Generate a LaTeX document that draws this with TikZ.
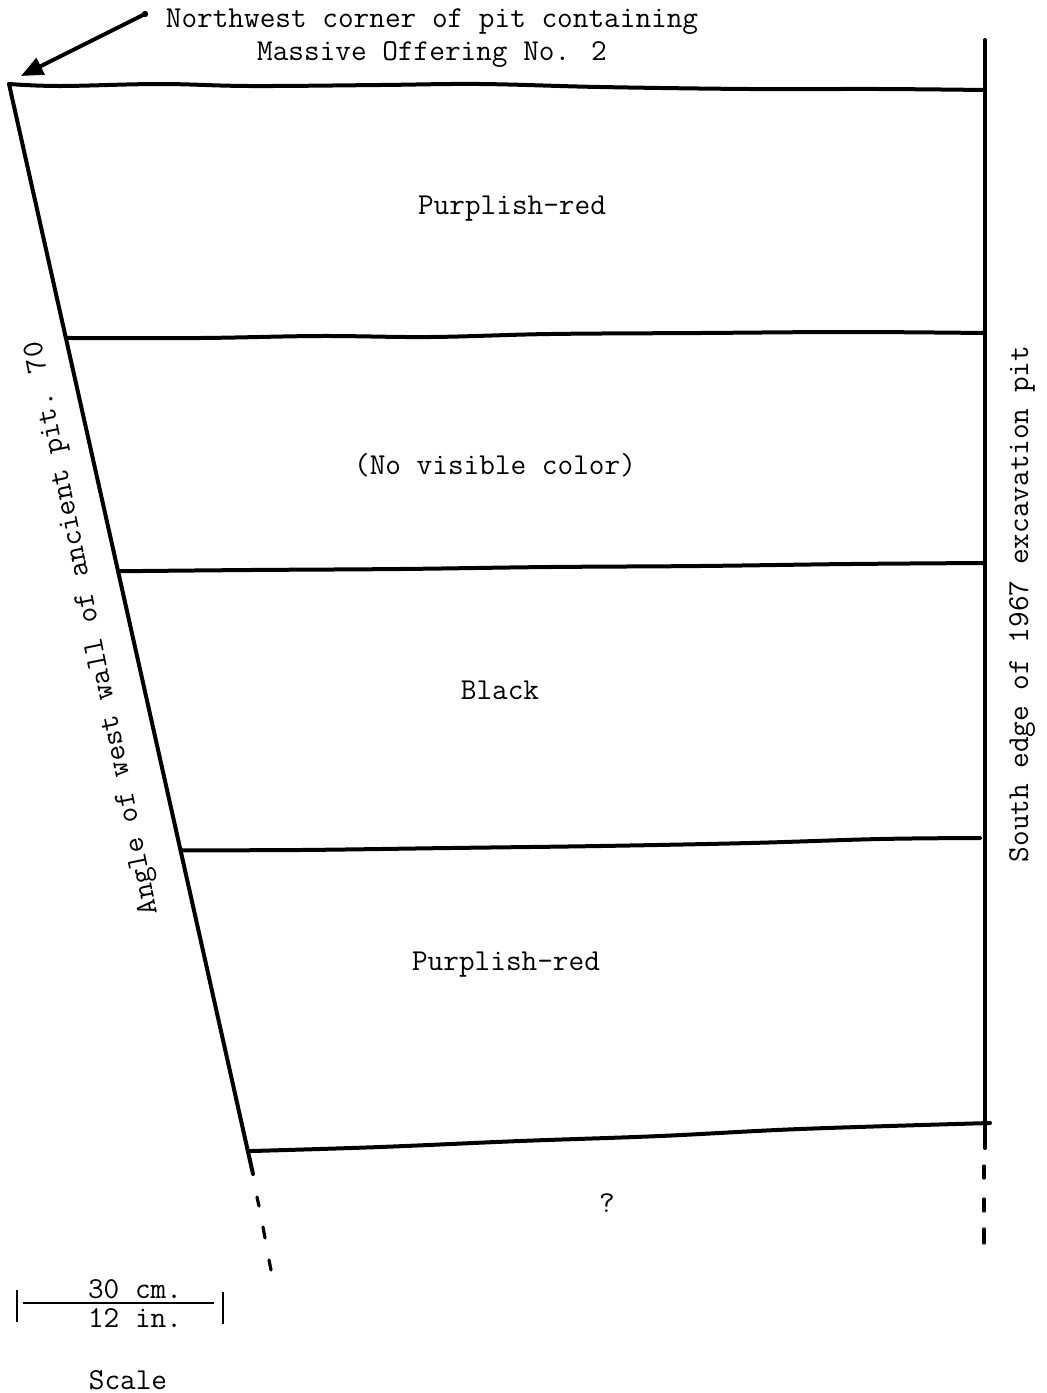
\documentclass[tikz,border=0pt]{standalone}
\usetikzlibrary{arrows.meta}
\tikzset{
  wallLine/.style={line width=2pt, line cap=round, line join=round},
  layerLine/.style={line width=2pt, line cap=round},
  gapDash/.style={line width=1.6pt, line cap=round},
  scaleLine/.style={line width=0.9pt},
  arrowK/.style={-{Triangle[length=11pt,width=9pt]}, line width=2pt, shorten <=1pt},
  labelText/.style={font=\ttfamily\fontsize{15.2}{16.5}\selectfont, inner sep=0pt, align=center},
}
\begin{document}
\begin{tikzpicture}[x=0.5pt, y=-0.5pt]
  \useasboundingbox (0,0) rectangle (1046,1393);
  % corners of the section
  \coordinate (nw) at (9,84);
  \coordinate (sw) at (253,1174);
  \coordinate (ne) at (985,40);
  \coordinate (se) at (985,1148);
  \path (nw) -- (sw)
    coordinate[pos=0.233] (w2) coordinate[pos=0.447] (w3)
    coordinate[pos=0.703] (w4) coordinate[pos=0.979] (w5);

  % walls
  \draw[wallLine] (nw) -- (sw);
  \draw[wallLine] (ne) -- (se);

  % layer boundaries
  \draw[layerLine] plot[smooth, tension=0.6] coordinates {(9,84) (60,86) (160,84) (250,86)
    (380,85) (480,84) (600,87) (750,89) (880,89) (985,90)};
  \draw[layerLine] plot[smooth, tension=0.6] coordinates {(w2) (200,338) (320,336) (430,337)
    (550,334) (700,333) (850,332) (985,333)};
  \draw[layerLine] plot[smooth, tension=0.6] coordinates {(w3) (250,570) (400,569) (550,567)
    (700,566) (850,564) (985,563)};
  \draw[layerLine] plot[smooth, tension=0.6] coordinates {(w4) (300,850) (450,848) (600,846)
    (750,843) (880,839) (980,838)};
  \draw[layerLine] plot[smooth, tension=0.6] coordinates {(w5) (380,1147) (520,1141) (660,1136)
    (800,1129) (990,1123)};

  % continuation below
  \draw[gapDash] (257,1197) -- (259,1206);
  \draw[gapDash] (263,1227) -- (265,1238);
  \draw[gapDash] (269,1260) -- (271,1270);
  \draw[gapDash] (984,1166) -- (984,1178);
  \draw[gapDash] (984,1199) -- (984,1211);
  \draw[gapDash] (984,1229) -- (984,1243);

  % layer names
  \node[labelText] (layer1) at (512,209) {Purplish-red};
  \node[labelText] (layer2) at (495,465) {(No visible color)};
  \node[labelText] (layer3) at (500,690) {Black};
  \node[labelText] (layer4) at (506,965) {Purplish-red};
  \node[labelText] (unknown) at (607,1203) {?};

  % edge labels
  \node[labelText, rotate=101.5] (wallLabel) at (93,628) {Angle of west wall of ancient pit. 70};
  \node[labelText, rotate=90] (edgeLabel) at (1022,604) {South edge of 1967 excavation pit};

  % corner note
  \node[labelText] (cornerLabel) at (432,38) {Northwest corner of pit containing\\Massive Offering No. 2};
  \coordinate (cornerDot) at (145,14);
  \coordinate (cornerTip) at (21,76);
  \fill (cornerDot) circle (1.6pt);
  \draw[arrowK] (cornerDot) -- (cornerTip);

  % scale
  \coordinate (scL) at (17,1306);
  \coordinate (scR) at (223,1308);
  \draw[scaleLine] ([yshift=8pt]scL) -- ([yshift=-8pt]scL);
  \draw[scaleLine] ([yshift=8pt]scR) -- ([yshift=-8pt]scR);
  \draw[scaleLine] (23,1303) -- (214,1303);
  \node[labelText] (scaleCm) at (135,1289) {30 cm.};
  \node[labelText] (scaleIn) at (135,1318) {12 in.};
  \node[labelText] (scaleName) at (128,1380) {Scale};
\end{tikzpicture}
\end{document}
